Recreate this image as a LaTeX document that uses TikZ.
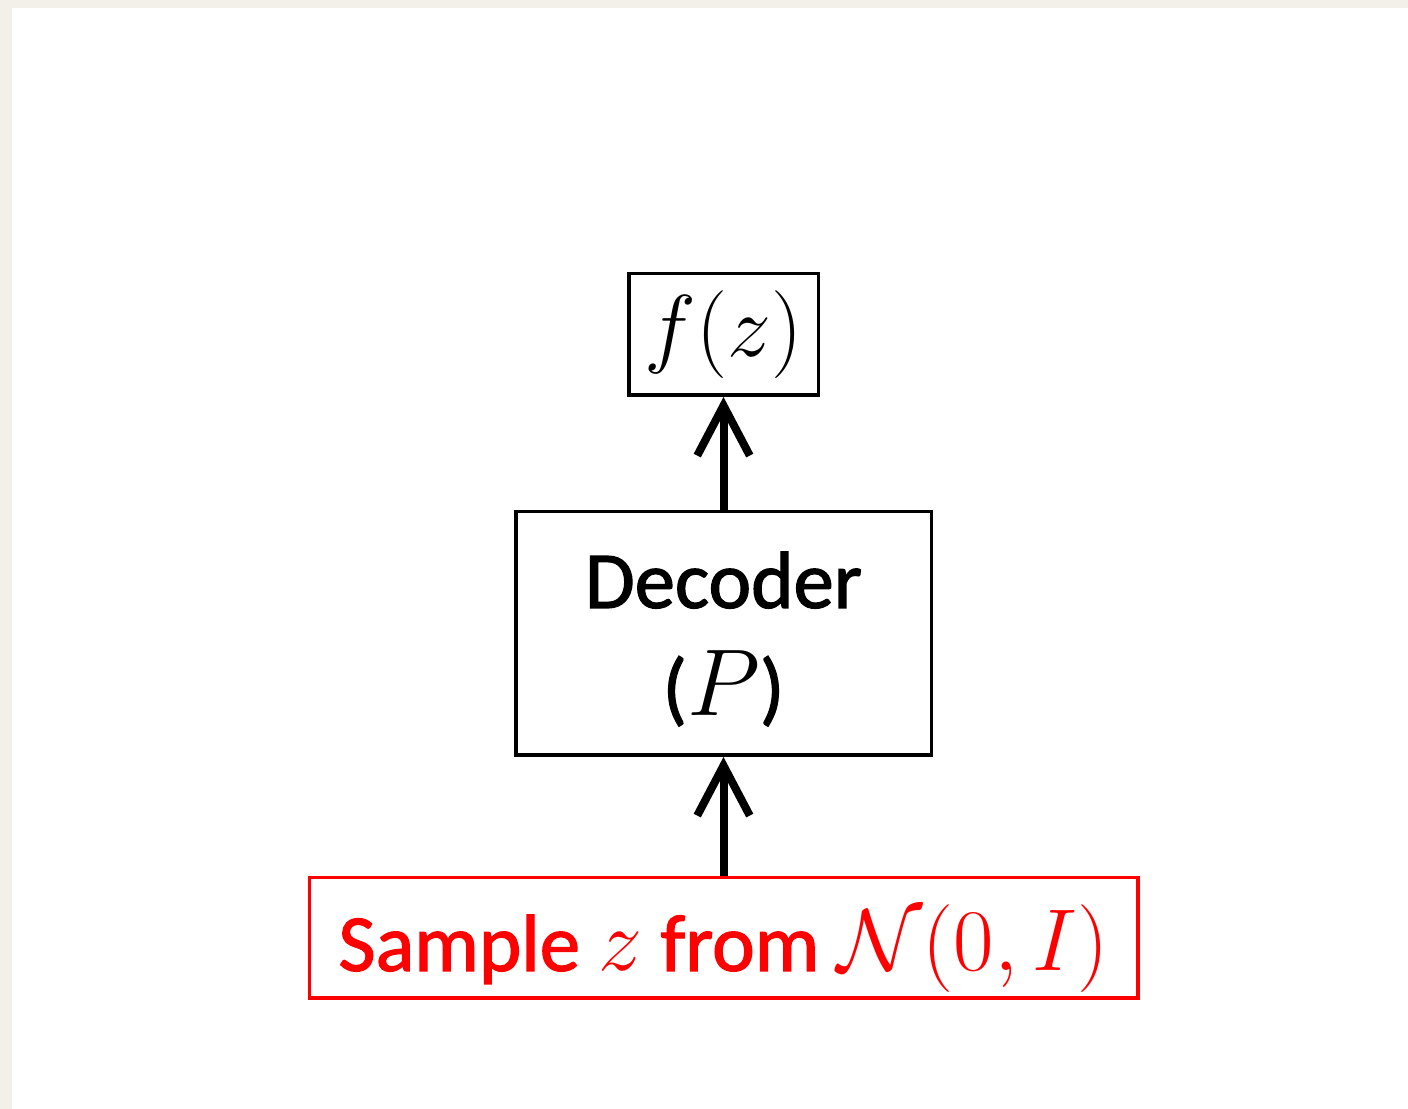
\RequirePackage{fix-cm}
\documentclass[tikz,border=0pt]{standalone}
\usepackage{fontspec}
\setmainfont{Carlito}[FakeBold=1.5]
\usepackage{tikz}
\usetikzlibrary{arrows.meta,positioning}

\definecolor{paper}{HTML}{F3F0EA}
\newcommand{\mymath}[2]{{\fontsize{#1}{#1}\selectfont$#2$}}

\begin{document}
\begin{tikzpicture}
			\tikzstyle{Box}		= [rectangle, draw, line width=0.07cm, inner sep=0pt, font=\fontsize{46}{61}\selectfont]
			\tikzstyle{Out}		= [minimum width=3.79cm, minimum height=2.43cm]
			\tikzstyle{Net}		= [minimum width=8.31cm, minimum height=4.87cm, align=center, text depth=0pt]
			\tikzstyle{Noise}	= [minimum width=16.57cm, minimum height=2.41cm, text depth=0pt, red, text=red]
			\tikzstyle{Flow}	= [line width=0.16cm, -{Straight Barb[length=1.0cm, width=1.05cm]}]

			\useasboundingbox (0,0) rectangle (28.16,22.18);
			\fill [paper] (0,0) rectangle (28.16,22.18);
			\fill [white] (0.24,0) rectangle (28.16,22.02);

			\node (fz) at (14.47,15.49) [Box][Out] {\mymath{50}{f(z)}};
			\node (dec) at (14.47,9.51) [Box][Net] {Decoder\\(\mymath{54}{P})};
			\node (smp) at (14.47,3.42) [Box][Noise] {Sample \mymath{50}{z} from \mymath{50}{\mathcal{N}(0,I)}};

			\draw (smp) to (dec) [Flow];
			\draw (dec) to (fz) [Flow];
		\end{tikzpicture}
\end{document}
